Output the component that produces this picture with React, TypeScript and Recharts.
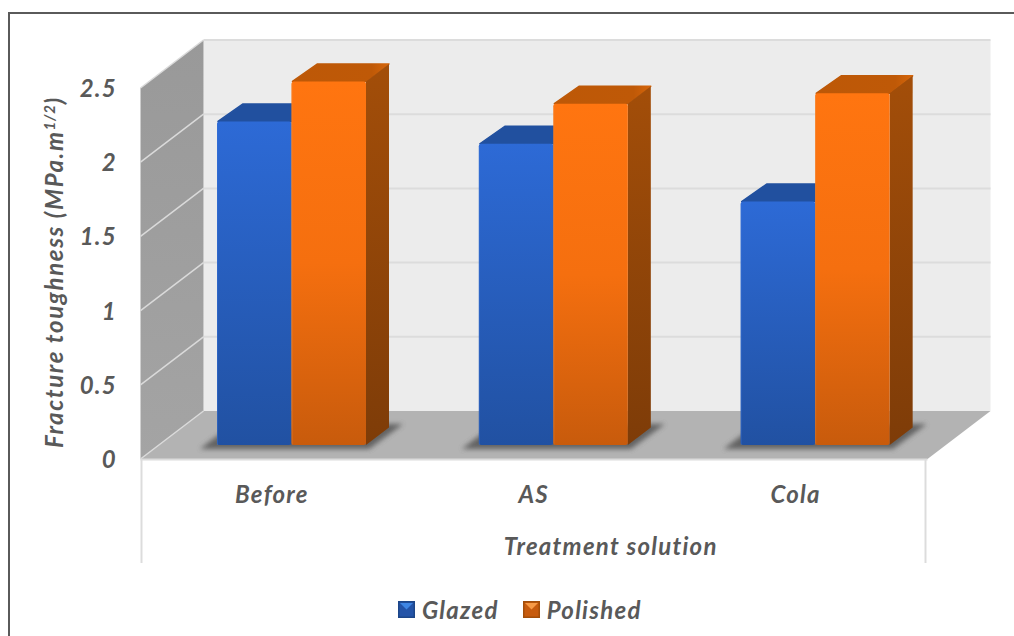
import React from 'react';
import { BarChart, Bar, XAxis, YAxis, CartesianGrid, Legend } from 'recharts';

const treatments = ['Before', 'AS', 'Cola'];
const glazed = [2.18, 2.03, 1.64];
const polished = [2.45, 2.3, 2.37];
const yTicks = [0, 0.5, 1, 1.5, 2, 2.5];

const chartData = treatments.map((name, i) => ({ name, Glazed: glazed[i], Polished: polished[i] }));

const FONT = 'Lato, "Open Sans", sans-serif';
const TEXT_COLOR = '#595959';
const textStyle = {
  fontFamily: FONT,
  fontSize: 24,
  fontStyle: 'italic',
  fontWeight: 700,
  letterSpacing: 1.25,
  fill: TEXT_COLOR,
};

// bar depth in the oblique projection
const DEPTH_LEFT = 26;
const DEPTH_RIGHT = 23;
const DEPTH_Y = 17.5;

// walls, relative to the plane the bars stand on
const BACK_UP = 34;
const FRONT_DOWN = 14;
const STEM = 104;

const grads: Record<string, { front: string; top: string; side: string; edge: string }> = {
  Glazed: { front: 'url(#blueFront)', top: 'url(#blueTop)', side: 'url(#blueSide)', edge: '#3a74d8' },
  Polished: { front: 'url(#orangeFront)', top: 'url(#orangeTop)', side: 'url(#orangeSide)', edge: '#f58a35' },
};

const poly = (pts: number[][]) => pts.map((p) => p.join(',')).join(' ');

const Box3D = (props: any) => {
  const { x, y, width: w, height: h, dataKey } = props;
  const b = y + h;
  const g = grads[dataKey];
  return (
    <g>
      {dataKey === 'Glazed' && (
        <polygon
          points={poly([
            [x - 17, b + 4],
            [x + 2 * w + 3, b + 4],
            [x + 2 * w + 37, b - 21],
            [x + 2 * w + 18, b - 21],
            [x + 4, b - 12],
          ])}
          fill="#555"
          opacity={0.85}
          filter="url(#floorShadow)"
        />
      )}
      <polygon
        points={poly([
          [x + 1, y],
          [x + DEPTH_LEFT, y - DEPTH_Y],
          [x + w + DEPTH_RIGHT, y - DEPTH_Y],
          [x + w, y],
        ])}
        fill={g.top}
        stroke={g.top}
        strokeWidth={1.5}
        strokeLinejoin="round"
      />
      <polygon
        points={poly([
          [x + w, y],
          [x + w + DEPTH_RIGHT, y - DEPTH_Y],
          [x + w + DEPTH_RIGHT, b - DEPTH_Y],
          [x + w, b],
        ])}
        fill={g.side}
      />
      <rect x={x} y={y} width={w} height={h} rx={2.5} fill={g.front} />
      <line x1={x + 0.5} x2={x + 0.5} y1={y + 2} y2={b} stroke={g.edge} strokeOpacity={0.45} />
    </g>
  );
};

// back wall, side wall and floor go under the first grid line, the rest are the lines themselves
const GridLine = (props: any) => {
  const { x1, x2, y1, index, x, y, width, height } = props;
  const left = x;
  const right = x + width;
  const top = y;
  const bottom = y + height;
  const isFloor = Math.abs(y1 - bottom) < 1;
  return (
    <g>
      {index === 0 && (
        <g>
          <rect x={left + 42.5} y={top - BACK_UP} width={width + 1.5} height={height} fill="#ececec" />
          <polygon
            points={poly([
              [left - 20.5, top + FRONT_DOWN],
              [left + 42.5, top - BACK_UP],
              [left + 42.5, bottom - BACK_UP],
              [left - 20.5, bottom + FRONT_DOWN],
            ])}
            fill="url(#sideWall)"
          />
          <polygon
            points={poly([
              [left - 20.5, bottom + FRONT_DOWN],
              [left + 42.5, bottom - BACK_UP],
              [right + 44, bottom - BACK_UP],
              [right - 19, bottom + FRONT_DOWN],
            ])}
            fill="#b3b3b3"
          />
          <line x1={left - 20.5} x2={right - 19} y1={bottom + FRONT_DOWN + 0.5} y2={bottom + FRONT_DOWN + 0.5} stroke="#dcdcdc" strokeWidth={2} />
          <line x1={left - 19.5} x2={left - 19.5} y1={bottom + FRONT_DOWN} y2={bottom + FRONT_DOWN + STEM} stroke="#dcdcdc" strokeWidth={2} />
          <line x1={right - 21} x2={right - 21} y1={bottom + FRONT_DOWN} y2={bottom + FRONT_DOWN + STEM} stroke="#dcdcdc" strokeWidth={2} />
        </g>
      )}
      <line x1={left - 20.5} y1={y1 + FRONT_DOWN} x2={left + 42.5} y2={y1 - BACK_UP} stroke="#dadada" strokeWidth={1.5} />
      {!isFloor && <line x1={x1 + 42.5} y1={y1 - BACK_UP} x2={x2 + 44} y2={y1 - BACK_UP} stroke="#dcdcdc" strokeWidth={2} />}
    </g>
  );
};

const YTick = ({ y, payload }: any) => (
  <text x={117} y={y + 23} textAnchor="end" style={textStyle}>
    {payload.value}
  </text>
);

const XTick = ({ x, y, payload }: any) => (
  <text x={x - 20} y={y + 50} textAnchor="middle" style={textStyle}>
    {payload.value}
  </text>
);

const YTitle = () => (
  <text transform="rotate(-90 63 272)" x={63} y={272} textAnchor="middle" style={{ ...textStyle, letterSpacing: 1.65 }}>
    Fracture toughness (MPa.m
    <tspan dy={-8} style={{ fontSize: 15, letterSpacing: 0.8 }}>1/2</tspan>
    <tspan dy={8}>)</tspan>
  </text>
);

const XTitle = ({ viewBox }: any) => (
  <text x={viewBox.x + viewBox.width / 2 + 57} y={555} textAnchor="middle" style={textStyle}>
    Treatment solution
  </text>
);

const LegendSwatch = ({ colors }: { colors: string[] }) => (
  <svg width={17} height={17} style={{ display: 'block' }}>
    <rect width={17} height={17} fill={colors[0]} />
    <rect x={1.5} y={1.5} width={14} height={14} fill={colors[1]} />
    <polygon points="2,2 15,2 8.5,8.5" fill={colors[2]} />
  </svg>
);

const swatchColors: Record<string, string[]> = {
  Glazed: ['#1d4689', '#2454a8', '#3f86e4'],
  Polished: ['#a34e09', '#c75b0d', '#f79a45'],
};

const LegendRow = ({ payload }: any) => (
  <div style={{ display: 'flex', alignItems: 'center', height: 30 }}>
    {(payload || []).map((item: any) => (
      <div key={item.value} style={{ display: 'flex', alignItems: 'center', marginRight: 24 }}>
        <LegendSwatch colors={swatchColors[item.value]} />
        <span
          style={{
            marginLeft: 7,
            fontFamily: FONT,
            fontSize: 24,
            fontStyle: 'italic',
            fontWeight: 700,
            letterSpacing: 1.25,
            color: TEXT_COLOR,
          }}
        >
          {item.value}
        </span>
      </div>
    ))}
  </div>
);

const App = () => (
  <div style={{ position: 'absolute', left: 0, top: 0, width: 1014, height: 636, overflow: 'hidden' }}>
    <div
      style={{
        position: 'absolute',
        left: 8,
        top: 12,
        right: 0,
        bottom: 0,
        borderTop: '2px solid #5a5a5a',
        borderLeft: '2px solid #5a5a5a',
      }}
    />
    <BarChart
      width={1014}
      height={636}
      data={chartData}
      margin={{ top: 74, right: 67.5, left: 0, bottom: 0 }}
      barCategoryGap={0}
      barGap={0}
      barSize={74.5}
      style={{ position: 'absolute', left: 0, top: 0 }}
    >
      <defs>
        <linearGradient id="blueFront" x1="0" y1="0" x2="0" y2="1">
          <stop offset="0" stopColor="#2d6ad6" />
          <stop offset="1" stopColor="#2151a2" />
        </linearGradient>
        <linearGradient id="orangeFront" x1="0" y1="0" x2="0" y2="1">
          <stop offset="0" stopColor="#ff7510" />
          <stop offset="0.5" stopColor="#f56f0f" />
          <stop offset="1" stopColor="#c85b0c" />
        </linearGradient>
        <linearGradient id="blueTop" x1="0" y1="0" x2="1" y2="0">
          <stop offset="0" stopColor="#21509f" />
          <stop offset="1" stopColor="#21509f" />
        </linearGradient>
        <linearGradient id="orangeTop" x1="0" y1="0" x2="1" y2="0">
          <stop offset="0" stopColor="#bd5807" />
          <stop offset="0.82" stopColor="#bf5907" />
          <stop offset="1" stopColor="#d6660b" />
        </linearGradient>
        <linearGradient id="blueSide" x1="0" y1="0" x2="0" y2="1">
          <stop offset="0" stopColor="#1d4689" />
          <stop offset="1" stopColor="#173a70" />
        </linearGradient>
        <linearGradient id="orangeSide" x1="0" y1="0" x2="0" y2="1">
          <stop offset="0" stopColor="#a34e09" />
          <stop offset="1" stopColor="#7e3c08" />
        </linearGradient>
        <linearGradient id="sideWall" x1="0" y1="0" x2="0" y2="1">
          <stop offset="0" stopColor="#999999" />
          <stop offset="1" stopColor="#a4a4a4" />
        </linearGradient>
        <filter id="floorShadow" x="-10%" y="-30%" width="120%" height="160%">
          <feGaussianBlur stdDeviation="2.5" />
        </filter>
      </defs>
      <CartesianGrid vertical={false} horizontal={GridLine as any} horizontalValues={yTicks} />
      <XAxis
        dataKey="name"
        height={161}
        axisLine={false}
        tickLine={false}
        tick={<XTick />}
        label={<XTitle />}
        interval={0}
      />
      <YAxis
        width={161}
        domain={[0, 2.5]}
        ticks={yTicks}
        axisLine={false}
        tickLine={false}
        tick={<YTick />}
        label={<YTitle />}
        interval={0}
      />
      <Legend
        content={<LegendRow />}
        wrapperStyle={{ left: 398, bottom: 12, width: 300, height: 30 }}
      />
      <Bar dataKey="Glazed" fill="#2d6ad6" shape={<Box3D dataKey="Glazed" />} isAnimationActive={false} />
      <Bar dataKey="Polished" fill="#ff7510" shape={<Box3D dataKey="Polished" />} isAnimationActive={false} />
    </BarChart>
  </div>
);

export default App;
